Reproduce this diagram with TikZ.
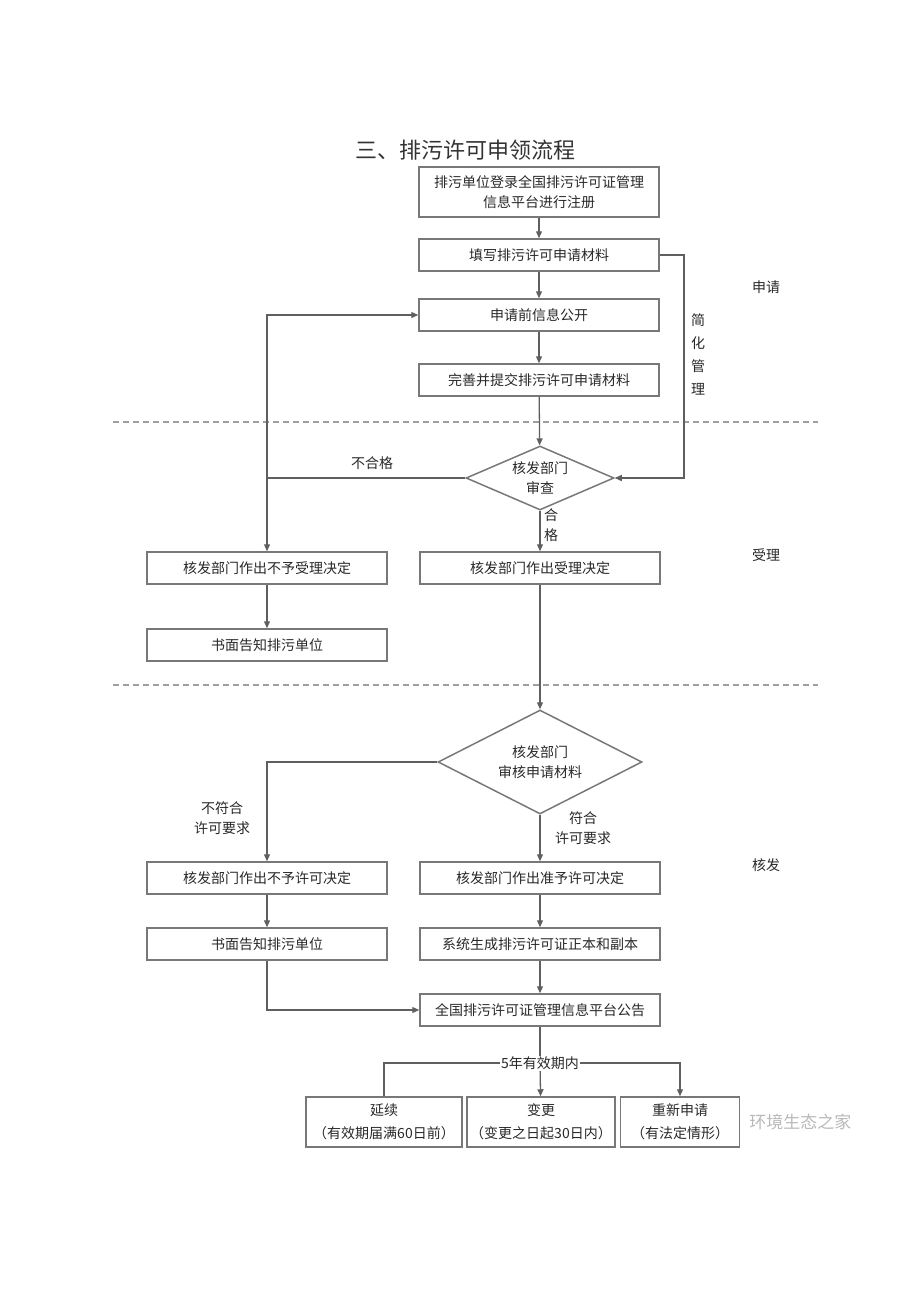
\documentclass[tikz,border=0pt]{standalone}
\usepackage{fontspec}
\setmainfont{Noto Sans CJK SC}
\usetikzlibrary{shapes.geometric,arrows.meta}

\definecolor{boxgray}{RGB}{120,120,120}
\definecolor{linegray}{RGB}{95,95,95}
\definecolor{txtgray}{RGB}{40,40,40}

\tikzset{
  flowbox/.style={draw=boxgray, line width=0.75pt, minimum width=120pt, minimum height=16pt,
    inner sep=0pt, align=center, text=txtgray, font=\fontsize{7}{10}\selectfont},
  smallbox/.style={flowbox, minimum height=25pt, font=\fontsize{7}{11.5}\selectfont},
  checkdia/.style={draw=boxgray, line width=0.75pt, diamond, inner sep=0pt, align=center,
    text=txtgray, font=\fontsize{7}{10}\selectfont},
  arr/.style={draw=linegray, line width=0.65pt, -{Triangle[length=3.5pt,width=3pt]}},
  plain/.style={draw=linegray, line width=0.65pt},
  lbl/.style={text=txtgray, font=\fontsize{7}{10}\selectfont, align=center, inner sep=1pt},
  sepline/.style={draw=gray!75, line width=0.8pt, dash pattern=on 3pt off 2pt}
}

\begin{document}
\begin{tikzpicture}[x=0.5pt,y=0.5pt,yscale=-1]
\useasboundingbox (0,0) rectangle (920,1301);

% Title
\node (title) at (465,150) [text=black!80, font=\fontsize{11}{13}\selectfont] {三、排污许可申领流程};

%Shape: Rectangle -- apply
\node (reg) at (539,192) [flowbox, minimum height=25pt] {排污单位登录全国排污许可证管理\\信息平台进行注册};
\node (fill) at (539,255) [flowbox] {填写排污许可申请材料};
\node (pub) at (539,315) [flowbox] {申请前信息公开};
\node (submit) at (539,380) [flowbox] {完善并提交排污许可申请材料};

%Shape: Diamond -- accept
\node (check) at (540,478) [checkdia, minimum width=74pt, minimum height=32pt, aspect=2.3] {核发部门\\审查};
\node (reject) at (267,568) [flowbox] {核发部门作出不予受理决定};
\node (accept) at (540,568) [flowbox] {核发部门作出受理决定};
\node (notify) at (267,645) [flowbox] {书面告知排污单位};

%Shape: Diamond -- issue
\node (review) at (540,762) [checkdia, minimum width=102pt, minimum height=52pt, aspect=2] {核发部门\\审核申请材料};
\node (deny) at (267,878) [flowbox] {核发部门作出不予许可决定};
\node (grant) at (540,878) [flowbox] {核发部门作出准予许可决定};
\node (notify2) at (267,944) [flowbox] {书面告知排污单位};
\node (make) at (540,944) [flowbox] {系统生成排污许可证正本和副本};
\node (post) at (540,1010) [flowbox] {全国排污许可证管理信息平台公告};

%Shape: Rectangle -- after issue
\node (renew) at (384,1122) [smallbox, minimum width=78pt] {延续\\（有效期届满60日前）};
\node (alter) at (541,1122) [smallbox, minimum width=74pt] {变更\\（变更之日起30日内）};
\node (again) at (680,1122) [smallbox, minimum width=59.5pt] {重新申请\\（有法定情形）};

% stage separators
\draw [sepline] (113,422) -- (818,422);
\draw [sepline] (113,685) -- (818,685);

%Straight Lines
\draw [arr] (reg) -- (fill);
\draw [arr] (fill) -- (pub);
\draw [arr] (pub) -- (submit);
\draw [arr] (submit) -- (check);
\coordinate (simple) at (684,0);
\draw [arr] (fill.east) -| (simple |- check.east) -- (check.east);
\draw [arr] (check.west) -| (reject.north);
\draw [arr] (reject.north |- check.west) |- (pub.west);
\draw [arr] (check) -- (accept);
\draw [arr] (reject) -- (notify);
\draw [arr] (accept) -- (review);
\draw [arr] (review.west) -| (deny.north);
\draw [arr] (review) -- (grant);
\draw [arr] (deny) -- (notify2);
\draw [arr] (grant) -- (make);
\draw [arr] (make) -- (post);
\draw [arr] (notify2.south) |- (post.west);
\coordinate (fork) at (540,1063);
\draw [plain] (post) -- (fork);
\draw [plain] (renew.north) |- (fork);
\draw [arr] (fork) -| (again.north);
\draw [arr] (fork) -- (alter);

% Text Node
\node (nopass) at (372,463) [lbl] {不合格};
\node (pass) at (551,525) [lbl, font=\fontsize{7}{10}\selectfont] {合\\格};
\node (simplabel) at (698,354) [lbl, font=\fontsize{7}{11.5}\selectfont] {简\\化\\管\\理};
\node (nomeet) at (222,818) [lbl] {不符合\\许可要求};
\node (meet) at (583,828) [lbl] {符合\\许可要求};
\node (term) at (fork) [lbl, fill=white, inner sep=0.5pt] {5年有效期内};

% stage names
\node (st1) at (766,287) [lbl] {申请};
\node (st2) at (766,555) [lbl] {受理};
\node (st3) at (766,865) [lbl] {核发};

% watermark
\node (mark) at (again.east) [anchor=west, xshift=1pt, text=gray!55, font=\fontsize{8.5}{10}\selectfont] {环境生态之家};

\end{tikzpicture}
\end{document}
